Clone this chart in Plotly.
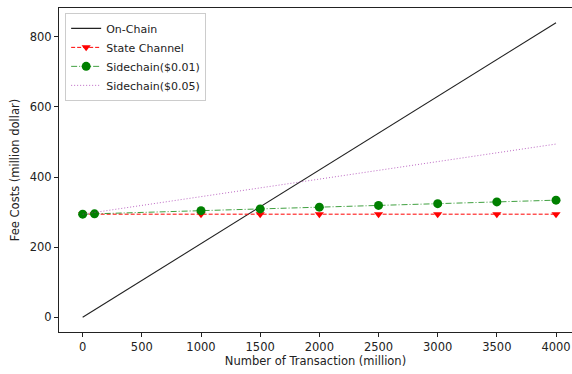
import plotly.graph_objects as go

tx = [0, 100, 1000, 1500, 2000, 2500, 3000, 3500, 4000]
onchain = [0, 21, 210, 315, 420, 525, 630, 735, 840]
state_channel = [294, 294, 294, 294, 294, 294, 294, 294, 294]
side_001 = [294, 295, 304, 309, 314, 319, 324, 329, 334]
side_005 = [294, 299, 344, 369, 394, 419, 444, 469, 494]

xticks = [0, 500, 1000, 1500, 2000, 2500, 3000, 3500, 4000]
yticks = [0, 200, 400, 600, 800]

FONT = "DejaVu Sans"
FS = 11.5
fig = go.Figure()
fig.add_trace(go.Scatter(x=tx, y=onchain, mode="lines", name="On-Chain",
                         line=dict(color="#222222", width=1.1)))
fig.add_trace(go.Scatter(x=tx, y=state_channel, mode="lines+markers", name="State Channel",
                         line=dict(color="red", width=1, dash="4px,2px"),
                         marker=dict(symbol="triangle-down", size=8, color="red")))
fig.add_trace(go.Scatter(x=tx, y=side_001, mode="lines+markers", name="Sidechain($0.01)",
                         line=dict(color="rgba(0,128,0,0.75)", width=1, dash="6px,2px,1px,2px"),
                         marker=dict(symbol="circle", size=9, color="green")))
fig.add_trace(go.Scatter(x=tx, y=side_005, mode="lines", name="Sidechain($0.05)",
                         line=dict(color="rgba(160,40,170,0.7)", width=1, dash="1px,2px")))

axis_common = dict(showgrid=False, zeroline=False, showline=True, linecolor="#222",
                   linewidth=1, ticks="outside", ticklen=4, tickcolor="#222",
                   tickfont=dict(family=FONT, size=FS, color="#222"))
fig.update_xaxes(range=[-200, 4135], tickvals=xticks, mirror=True,
                 title=dict(text="Number of Transaction (million)",
                            font=dict(family=FONT, size=FS, color="#222"), standoff=3),
                 **axis_common)
fig.update_yaxes(range=[-42, 882], tickvals=yticks, mirror=False,
                 title=dict(text="Fee Costs (million dollar)",
                            font=dict(family=FONT, size=FS, color="#222"), standoff=7),
                 **axis_common)
fig.update_layout(width=572, height=374, margin=dict(l=59, r=0, t=8, b=42),
                  plot_bgcolor="white", paper_bgcolor="white",
                  font=dict(family=FONT, size=FS, color="#222"),
                  legend=dict(x=0.012, y=0.985, xanchor="left", yanchor="top",
                              bgcolor="rgba(255,255,255,0.8)", bordercolor="#cccccc",
                              borderwidth=1, font=dict(family=FONT, size=11, color="#222"),
                              tracegroupgap=0, itemwidth=30))
fig.write_html("out.html")
